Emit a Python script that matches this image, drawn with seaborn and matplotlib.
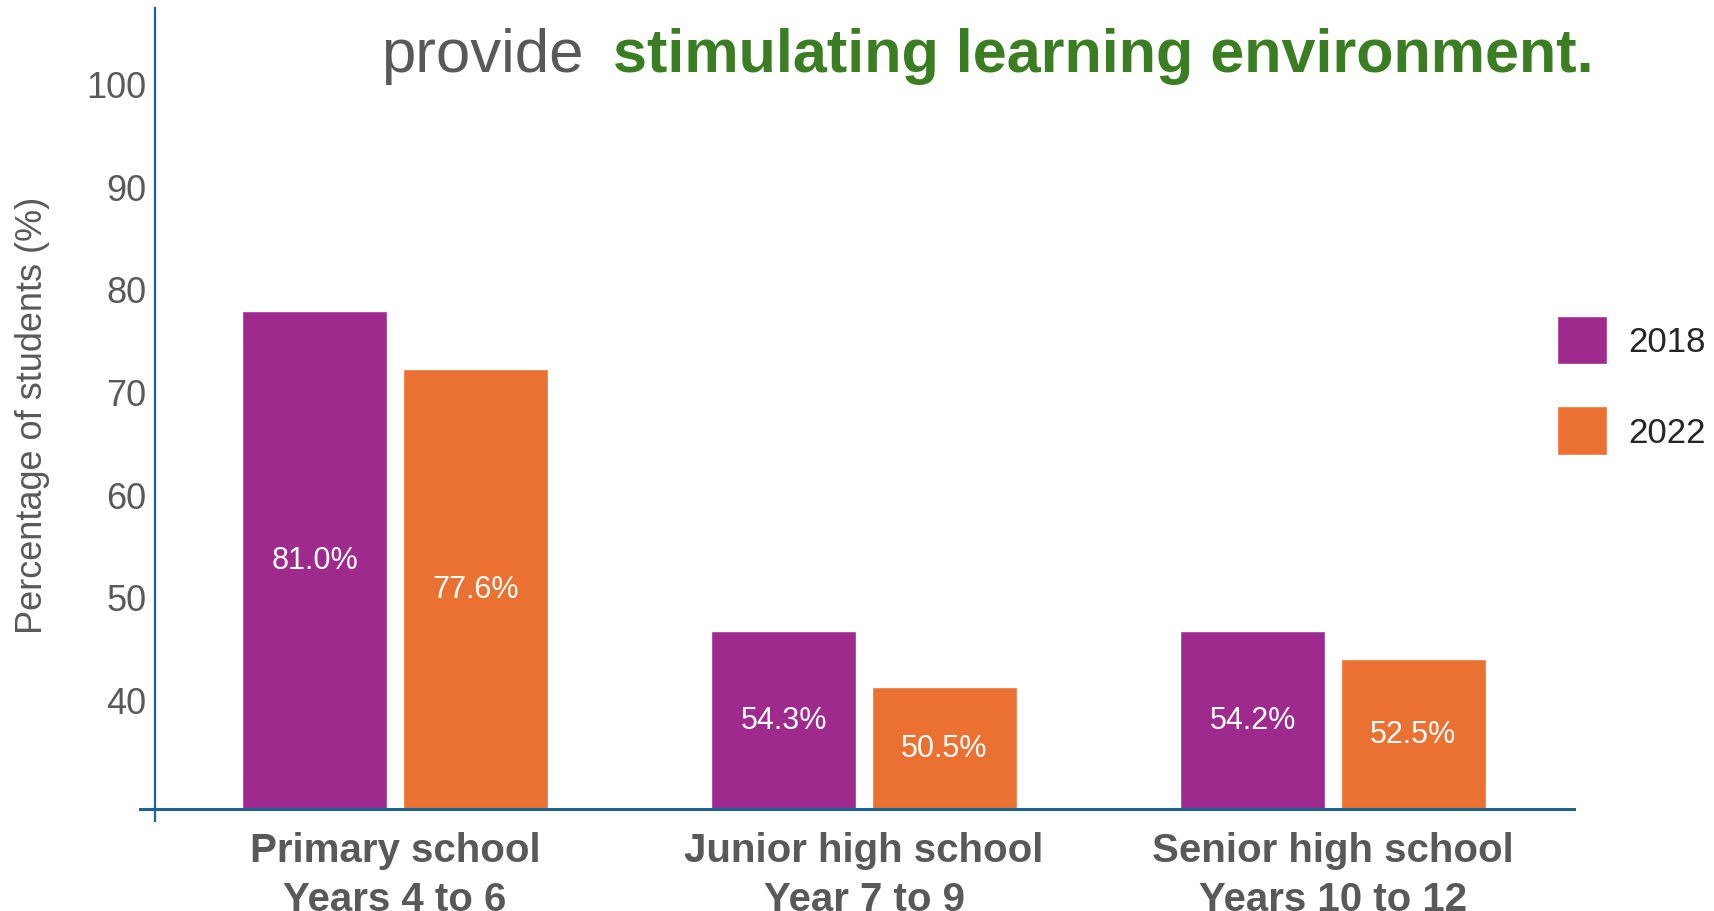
import pandas as pd
import matplotlib
matplotlib.use("Agg")
import matplotlib.pyplot as plt
import seaborn as sns
from matplotlib.patches import Patch

sns.set_style("white")
plt.rcParams["font.family"] = ["Liberation Sans", "DejaVu Sans"]

# =========================
# DATA
# =========================
levels = ["Primary school\nYears 4 to 6",
          "Junior high school\nYear 7 to 9",
          "Senior high school\nYears 10 to 12"]
years = ["2018", "2022"]
# bar heights as drawn against the axis
bar_2018 = [77.8, 46.7, 46.7]
bar_2022 = [72.2, 41.2, 43.9]
# printed labels
label_2018 = ["81.0%", "54.3%", "54.2%"]
label_2022 = ["77.6%", "50.5%", "52.5%"]
tick_values = [40, 50, 60, 70, 80, 90, 100]

df = pd.DataFrame({
    "level": levels * 2,
    "year": [years[0]] * 3 + [years[1]] * 3,
    "pct": bar_2018 + bar_2022,
})

purple = "#9E2A8E"
orange = "#EA7132"
gray = "#595959"
green = "#3B7D23"
blue = "#1F6390"

W, H = 1714, 912
fig = plt.figure(figsize=(W / 100, H / 100), dpi=100)

# bar axes
ax = fig.add_axes([140 / W, (H - 810) / H, (1574 - 140) / W, (810 - 9) / H])
sns.barplot(data=df, x="level", y="pct", hue="year", hue_order=years,
            palette=[purple, orange], width=0.686, gap=0.099,
            saturation=1, legend=False, ax=ax)
ax.set_ylim(29.33, 107.35)
ax.set_xlim(-0.544, 2.514)
ax.set_yticks([])
ax.set_xlabel("")
ax.set_ylabel("")
for s in ["left", "right", "top"]:
    ax.spines[s].set_visible(False)
ax.spines["bottom"].set_color(blue)
ax.spines["bottom"].set_linewidth(2.2)
ax.tick_params(axis="x", length=0, pad=16)
for lab in ax.get_xticklabels():
    lab.set_fontsize(29)
    lab.set_fontweight("bold")
    lab.set_color(gray)
    lab.set_linespacing(1.36)

for cont, labs in zip(ax.containers, [label_2018, label_2022]):
    ax.bar_label(cont, labels=labs, label_type="center",
                 color="white", fontsize=22)

# value axis (offset spine, crosses the baseline)
yax = fig.add_axes([155 / W, (H - 822) / H, 0.0001, (822 - 9) / H])
yax.set_facecolor("none")
yax.set_ylim(28.16, 107.35)
yax.set_yticks(tick_values)
yax.set_xticks([])
for s in ["right", "top", "bottom"]:
    yax.spines[s].set_visible(False)
yax.spines["left"].set_color(blue)
yax.spines["left"].set_linewidth(1.6)
yax.tick_params(axis="y", length=0, pad=6, labelsize=26, labelcolor=gray)

fig.text(33 / W, 1 - 415 / H, "Percentage of students (%)", rotation=90,
         ha="center", va="center", fontsize=26, color=gray)

# title fragment
fig.text(381 / W, 1 - 72 / H, "provide", fontsize=44.5, color=gray,
         va="baseline", ha="left")
fig.text(613 / W, 1 - 72 / H, "stimulating learning environment.",
         fontsize=44, color=green, fontweight="bold", va="baseline", ha="left")

# legend
handles = [Patch(facecolor=purple, label="2018"),
           Patch(facecolor=orange, label="2022")]
fig.legend(handles=handles, loc="upper left",
           bbox_to_anchor=(1557 / W, 1 - 317 / H), frameon=False,
           fontsize=25, handlelength=1.45, handleheight=1.77,
           labelspacing=1.2, handletextpad=0.6, borderpad=0,
           borderaxespad=0)

fig.savefig("out.png", dpi=100)
